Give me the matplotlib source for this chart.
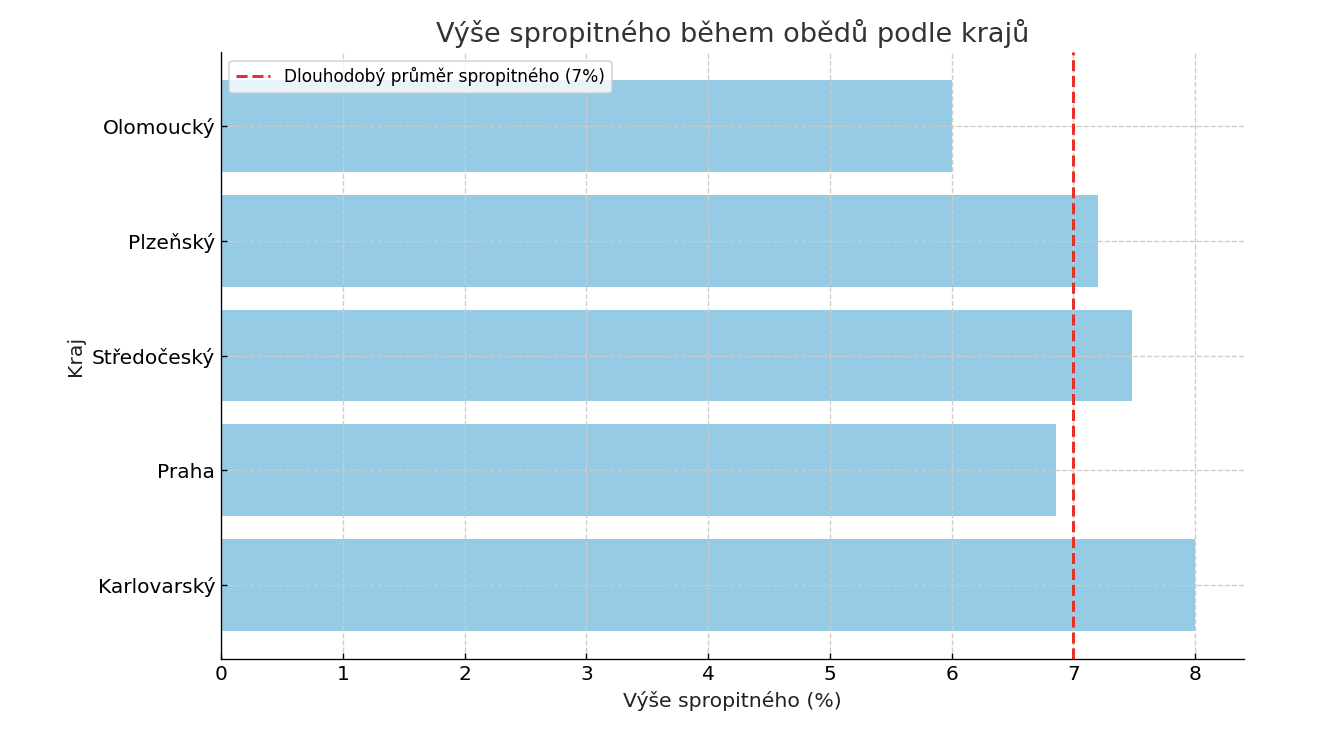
import matplotlib
matplotlib.use('Agg')
import matplotlib.pyplot as plt

kraje = ['Karlovarský', 'Praha', 'Středočeský', 'Plzeňský', 'Olomoucký']
spropitne = [8.0, 6.86, 7.48, 7.2, 6.0]
prumer = 7

plt.rcParams['font.family'] = ['DejaVu Sans']

fig, ax = plt.subplots(figsize=(11, 6.3), dpi=120)
fig.subplots_adjust(left=0.1674, right=0.9424, top=0.9312, bottom=0.1283)

ax.barh(kraje, spropitne, color='#96CBE6', height=0.8)
ax.axvline(prumer, color='#E8302A', linestyle='--', linewidth=1.8,
           label='Dlouhodobý průměr spropitného (7%)')

ax.set_title('Výše spropitného během obědů podle krajů', fontsize=16.3, color='#333333')
ax.set_xlabel('Výše spropitného (%)', fontsize=12.2, color='#222222')
ax.set_ylabel('Kraj', fontsize=12.2, color='#222222')
ax.tick_params(labelsize=12.1, direction='in')
ax.grid(True, linestyle='--', color='#cccccc', linewidth=0.8)
ax.spines['top'].set_visible(False)
ax.spines['right'].set_visible(False)
ax.legend(loc='upper left', fontsize=10.2)

fig.savefig('out.png')
